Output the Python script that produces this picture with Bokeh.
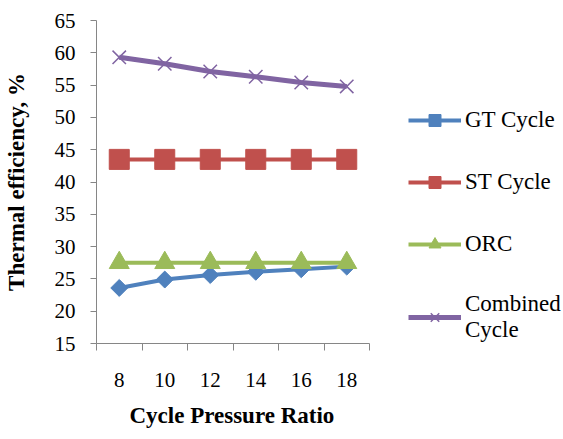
import math
from bokeh.plotting import figure
from bokeh.models import Range1d, FixedTicker, Legend, LegendItem, Title
from bokeh.embed import file_html
from bokeh.resources import INLINE

pressure_ratio = ["8", "10", "12", "14", "16", "18"]
gt_cycle = [23.6, 24.9, 25.6, 26.1, 26.5, 26.9]
st_cycle = [43.5, 43.5, 43.5, 43.5, 43.5, 43.5]
orc = [27.5, 27.5, 27.5, 27.5, 27.5, 27.5]
combined = [59.3, 58.3, 57.1, 56.3, 55.4, 54.8]
y_ticks = [15, 20, 25, 30, 35, 40, 45, 50, 55, 60, 65]

FONT = "Liberation Serif"
W, H = 563, 439
LEFT, RIGHT_AXIS_END, TOP, BOTTOM = 96, 369, 20, 96
n = len(pressure_ratio)
xs = [i + 0.5 for i in range(n)]
# frame extends to the right edge (so the legend is not clipped); axis is bounded to the categories
x_end = n * (W - LEFT) / (RIGHT_AXIS_END - LEFT)

p = figure(width=W, height=H, output_backend="svg", toolbar_location=None,
           x_range=Range1d(0, x_end), y_range=Range1d(15, 65),
           min_border_left=LEFT, min_border_right=0, min_border_top=TOP, min_border_bottom=BOTTOM)
p.outline_line_color = None
p.xgrid.visible = False
p.ygrid.visible = False
p.background_fill_color = "white"
p.border_fill_color = "white"

axis_color = "#868686"
p.yaxis.ticker = FixedTicker(ticks=y_ticks)
p.yaxis.major_tick_in = 0
p.yaxis.major_tick_out = 6
p.yaxis.major_label_standoff = 15
p.yaxis.axis_label = "Thermal efficiency, %"
p.yaxis.axis_label_standoff = 23

p.xaxis.bounds = (0, n)
p.xaxis.ticker = FixedTicker(ticks=xs, minor_ticks=list(range(n + 1)))
p.xaxis.major_label_overrides = {x: lab for x, lab in zip(xs, pressure_ratio)}
p.xaxis.major_tick_in = 0
p.xaxis.major_tick_out = 0
p.xaxis.minor_tick_in = 0
p.xaxis.minor_tick_out = 7
p.xaxis.major_label_standoff = 22

for ax in (p.xaxis, p.yaxis):
    ax.axis_line_color = axis_color
    ax.major_tick_line_color = axis_color
    ax.major_label_text_font = FONT
    ax.major_label_text_font_size = "21px"
    ax.major_label_text_color = "black"
    ax.axis_label_text_font = FONT
    ax.axis_label_text_font_size = "23px"
    ax.axis_label_text_font_style = "bold"
    ax.axis_label_text_color = "black"
p.xaxis.minor_tick_line_color = axis_color
p.yaxis.minor_tick_line_color = None

# x-axis title, positioned under the bounded axis
xtitle = Title(text="Cycle Pressure Ratio", align="left", offset=33, standoff=23,
               text_font=FONT, text_font_size="23px", text_font_style="bold",
               text_color="black")
p.add_layout(xtitle, "below")

blue, red, green, purple = "#4F81BD", "#C0504D", "#9BBB59", "#8064A2"
lw = 4

l1 = p.line(xs, gt_cycle, color=blue, line_width=lw)
m1 = p.scatter(xs, gt_cycle, marker="square", angle=math.pi / 4, size=12, color=blue)
l2 = p.line(xs, st_cycle, color=red, line_width=lw)
m2 = p.scatter(xs, st_cycle, marker="square", size=20, color=red)
l3 = p.line(xs, orc, color=green, line_width=lw)
m3 = p.scatter(xs, orc, marker="triangle", size=20, color=green)
l4 = p.line(xs, combined, color=purple, line_width=lw + 1)
m4 = p.scatter(xs, combined, marker="x", size=19, line_color=purple, line_width=1.5)

legend = Legend(items=[
    LegendItem(label="GT Cycle", renderers=[l1, m1]),
    LegendItem(label="ST Cycle", renderers=[l2, m2]),
    LegendItem(label="ORC", renderers=[l3, m3]),
    LegendItem(label="Combined\nCycle", renderers=[l4, m4]),
], location=(312, 0))
legend.border_line_color = None
legend.background_fill_alpha = 0
legend.padding = 0
legend.margin = 0
legend.glyph_width = 53
legend.glyph_height = 30
legend.spacing = 32
legend.label_standoff = 4
legend.label_text_font = FONT
legend.label_text_font_size = "23px"
legend.label_text_color = "black"
p.add_layout(legend, "center")

open("out.html", "w").write(file_html(p, INLINE))
